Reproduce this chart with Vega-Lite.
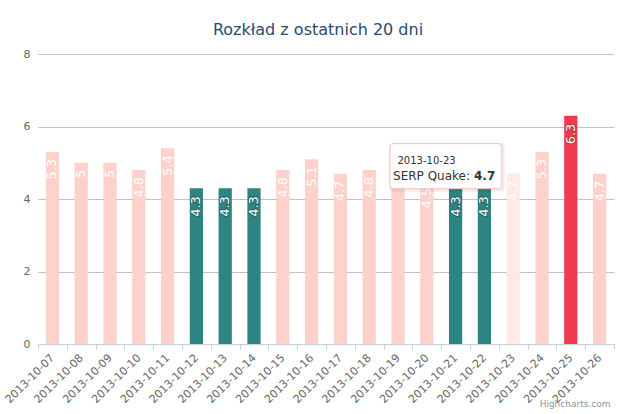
{
  "$schema": "https://vega.github.io/schema/vega-lite/v6.json",
  "width": 576,
  "height": 290,
  "autosize": {"type": "none"},
  "padding": {"left": 38, "top": 54, "right": 6, "bottom": 70},
  "background": "#ffffff",
  "title": {
    "text": "Rozkład z ostatnich 20 dni",
    "font": "DejaVu Sans",
    "fontSize": 16,
    "fontWeight": "normal",
    "color": "#274b6d",
    "anchor": "middle",
    "frame": "group",
    "baseline": "alphabetic",
    "offset": -3,
    "dx": -8
  },
  "data": {
    "values": [
      {"data": "2013-10-07", "wartosc": 5.3, "poziom": "normalny"},
      {"data": "2013-10-08", "wartosc": 5, "poziom": "normalny"},
      {"data": "2013-10-09", "wartosc": 5, "poziom": "normalny"},
      {"data": "2013-10-10", "wartosc": 4.8, "poziom": "normalny"},
      {"data": "2013-10-11", "wartosc": 5.4, "poziom": "normalny"},
      {"data": "2013-10-12", "wartosc": 4.3, "poziom": "niski"},
      {"data": "2013-10-13", "wartosc": 4.3, "poziom": "niski"},
      {"data": "2013-10-14", "wartosc": 4.3, "poziom": "niski"},
      {"data": "2013-10-15", "wartosc": 4.8, "poziom": "normalny"},
      {"data": "2013-10-16", "wartosc": 5.1, "poziom": "normalny"},
      {"data": "2013-10-17", "wartosc": 4.7, "poziom": "normalny"},
      {"data": "2013-10-18", "wartosc": 4.8, "poziom": "normalny"},
      {"data": "2013-10-19", "wartosc": 5.2, "poziom": "normalny"},
      {"data": "2013-10-20", "wartosc": 4.5, "poziom": "normalny"},
      {"data": "2013-10-21", "wartosc": 4.3, "poziom": "niski"},
      {"data": "2013-10-22", "wartosc": 4.3, "poziom": "niski"},
      {"data": "2013-10-23", "wartosc": 4.7, "poziom": "normalny"},
      {"data": "2013-10-24", "wartosc": 5.3, "poziom": "normalny"},
      {"data": "2013-10-25", "wartosc": 6.3, "poziom": "wysoki"},
      {"data": "2013-10-26", "wartosc": 4.7, "poziom": "normalny"}
    ]
  },
  "encoding": {
    "x": {
      "field": "data",
      "type": "nominal",
      "sort": null,
      "scale": {"paddingInner": 0, "paddingOuter": 0},
      "axis": {
        "title": "Highcharts.com",
        "titleFont": "DejaVu Sans",
        "titleFontSize": 9,
        "titleFontWeight": "normal",
        "titleColor": "#909090",
        "titleAnchor": "end",
        "titleAlign": "right",
        "titleBaseline": "alphabetic",
        "titleX": 572,
        "titleY": 62,
        "labelAngle": -45,
        "labelAlign": "right",
        "labelBaseline": "middle",
        "labelFont": "DejaVu Sans",
        "labelFontSize": 11,
        "labelColor": "#666666",
        "labelPadding": 7,
        "domainColor": "#C0D0E0",
        "tickColor": "#C0D0E0",
        "tickSize": 5,
        "tickBand": "extent",
        "grid": false
      }
    },
    "y": {
      "field": "wartosc",
      "type": "quantitative",
      "scale": {"domain": [0, 8], "nice": false},
      "axis": {
        "title": null,
        "values": [0, 2, 4, 6, 8],
        "domain": false,
        "ticks": false,
        "gridColor": "#C0C0C0",
        "labelFont": "DejaVu Sans",
        "labelFontSize": 11,
        "labelColor": "#666666",
        "labelPadding": 8
      }
    }
  },
  "layer": [
    {
      "mark": {"type": "bar", "width": {"band": 0.46}},
      "encoding": {
        "color": {
          "condition": {"test": "datum.data === '2013-10-23'", "value": "#FEE9E4"},
          "field": "poziom",
          "type": "nominal",
          "scale": {"domain": ["normalny", "niski", "wysoki"], "range": ["#FFD1CB", "#2E8481", "#EF3A4F"]},
          "legend": null
        }
      }
    },
    {
      "transform": [{"filter": "datum.poziom === 'normalny'"}],
      "mark": {"type": "text", "angle": 270, "align": "right", "baseline": "middle", "dx": -7, "font": "DejaVu Sans", "fontSize": 13, "color": "#ffffff"},
      "encoding": {"text": {"field": "wartosc", "type": "quantitative"}}
    },
    {
      "transform": [{"filter": "datum.poziom !== 'normalny'"}],
      "mark": {"type": "text", "angle": 270, "align": "right", "baseline": "middle", "dx": -8, "font": "DejaVu Sans", "fontSize": 13, "fill": "#000000", "fillOpacity": 0, "stroke": "#000000", "strokeOpacity": 0.22, "strokeWidth": 2},
      "encoding": {"text": {"field": "wartosc", "type": "quantitative"}}
    },
    {
      "transform": [{"filter": "datum.poziom !== 'normalny'"}],
      "mark": {"type": "text", "angle": 270, "align": "right", "baseline": "middle", "dx": -8, "font": "DejaVu Sans", "fontSize": 13, "color": "#ffffff"},
      "encoding": {"text": {"field": "wartosc", "type": "quantitative"}}
    },
    {
      "transform": [{"filter": "datum.data === '2013-10-23'"}],
      "mark": {
        "type": "point",
        "shape": "M-1.057,-0.45L1.057,-0.45Q1.117,-0.45 1.117,-0.39L1.117,0.39Q1.117,0.45 1.057,0.45L-1.057,0.45Q-1.117,0.45 -1.117,0.39L-1.117,-0.39Q-1.117,-0.45 -1.057,-0.45Z",
        "size": 10000,
        "filled": false,
        "fill": null,
        "stroke": "#000000",
        "strokeOpacity": 0.07,
        "strokeWidth": 4,
        "opacity": 1,
        "xOffset": -66.35,
        "yOffset": -6.5
      }
    },
    {
      "transform": [{"filter": "datum.data === '2013-10-23'"}],
      "mark": {
        "type": "point",
        "shape": "M-1.057,-0.45L1.057,-0.45Q1.117,-0.45 1.117,-0.39L1.117,0.39Q1.117,0.45 1.057,0.45L-1.057,0.45Q-1.117,0.45 -1.117,0.39L-1.117,-0.39Q-1.117,-0.45 -1.057,-0.45Z",
        "size": 10000,
        "filled": true,
        "fill": "#ffffff",
        "fillOpacity": 0.92,
        "stroke": "#F3C4BD",
        "strokeWidth": 1,
        "opacity": 1,
        "xOffset": -67.35,
        "yOffset": -7.5
      }
    },
    {
      "transform": [{"filter": "datum.data === '2013-10-23'"}],
      "mark": {"type": "text", "align": "left", "baseline": "alphabetic", "dx": -115.7, "dy": -10, "font": "DejaVu Sans", "fontSize": 10, "color": "#333333"},
      "encoding": {"text": {"field": "data", "type": "nominal"}}
    },
    {
      "transform": [{"filter": "datum.data === '2013-10-23'"}],
      "mark": {"type": "text", "align": "right", "baseline": "alphabetic", "dx": -43.2, "dy": 6.7, "font": "DejaVu Sans", "fontSize": 12, "color": "#333333", "text": "SERP Quake:"}
    },
    {
      "transform": [{"filter": "datum.data === '2013-10-23'"}],
      "mark": {"type": "text", "align": "left", "baseline": "alphabetic", "dx": -39.2, "dy": 6.7, "font": "DejaVu Sans", "fontSize": 12, "fontWeight": "bold", "color": "#333333"},
      "encoding": {"text": {"field": "wartosc", "type": "quantitative"}}
    }
  ],
  "config": {
    "view": {"stroke": null}
  }
}
